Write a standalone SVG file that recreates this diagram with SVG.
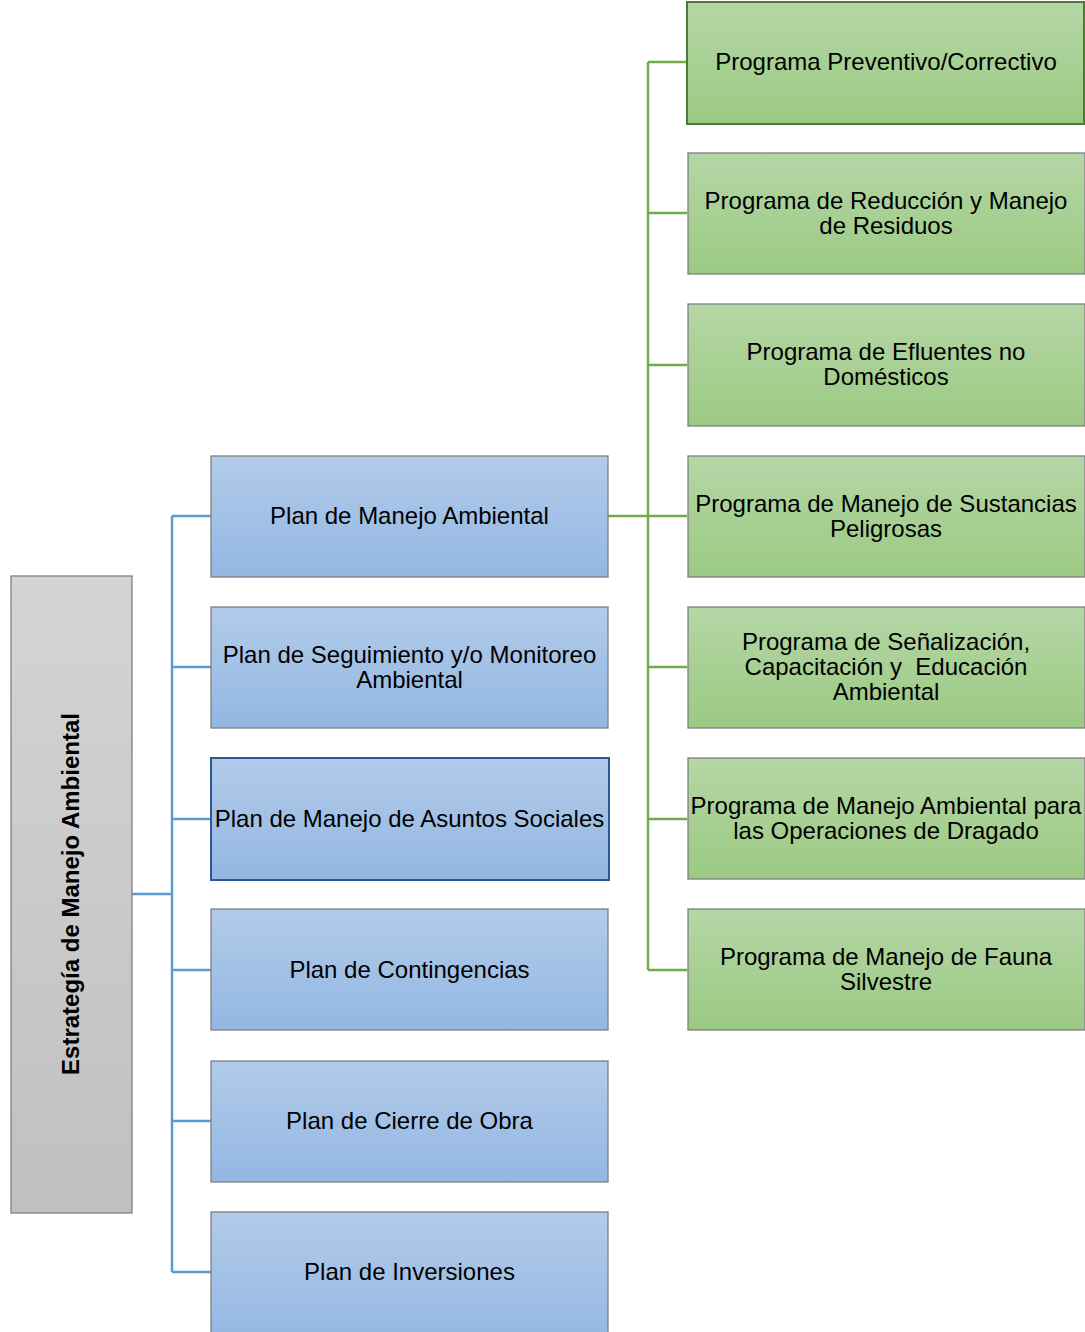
<svg xmlns="http://www.w3.org/2000/svg" width="1085" height="1332" viewBox="0 0 1085 1332">
<defs>
<linearGradient id="gBlue" x1="0" y1="0" x2="0" y2="1"><stop offset="0" stop-color="#b2cbe9"/><stop offset="1" stop-color="#93b7e3"/></linearGradient>
<linearGradient id="gGreen" x1="0" y1="0" x2="0" y2="1"><stop offset="0" stop-color="#b5d6a6"/><stop offset="1" stop-color="#9bca83"/></linearGradient>
<linearGradient id="gGray" x1="0" y1="0" x2="0" y2="1"><stop offset="0" stop-color="#d4d4d4"/><stop offset="1" stop-color="#c0c0c0"/></linearGradient>
</defs>
<style>
.blue{fill:url(#gBlue);stroke:#7f7f7f;stroke-width:1.3}
.green{fill:url(#gGreen);stroke:#7f7f7f;stroke-width:1.3}
.gray{fill:url(#gGray);stroke:#808080;stroke-width:1.3}
.sel-b{stroke:#2e5796;stroke-width:2}
.sel-g{stroke:#4f7b34;stroke-width:2}
text{font-family:"Liberation Sans",Arial,sans-serif;font-size:24px;fill:#000;text-anchor:middle}
.title{font-weight:bold;font-size:24px}
.cb{fill:none;stroke:#5b9bd5;stroke-width:2.5}
.cg{fill:none;stroke:#70ad47;stroke-width:2.5}
</style>
<g id="connectors">
<path class="cb" d="M132 894 H172 M172 516 V1272 M172 516 H211 M172 667 H211 M172 819 H211 M172 970 H211 M172 1121 H211 M172 1272 H211"/>
<path class="cg" d="M608 516 H648 M648 62 V970 M648 62 H687 M648 213 H687 M648 365 H687 M648 516 H687 M648 667 H687 M648 819 H687 M648 970 H687"/>
</g>
<g id="root">
<rect class="gray" x="11" y="576" width="121" height="637"/>
<text class="title" transform="translate(79 894) rotate(-90)">Estrategía de Manejo Ambiental</text>
</g>
<g id="plan1"><rect class="blue" x="211" y="456" width="397" height="121"/><text x="409.5" y="524">Plan de Manejo Ambiental</text></g>
<g id="plan2"><rect class="blue" x="211" y="607" width="397" height="121"/><text x="409.5" y="663">Plan de Seguimiento y/o Monitoreo</text><text x="409.5" y="688">Ambiental</text></g>
<g id="plan3"><rect class="blue sel-b" x="211" y="758" width="398" height="122"/><text x="409.5" y="827">Plan de Manejo de Asuntos Sociales</text></g>
<g id="plan4"><rect class="blue" x="211" y="909" width="397" height="121"/><text x="409.5" y="978">Plan de Contingencias</text></g>
<g id="plan5"><rect class="blue" x="211" y="1061" width="397" height="121"/><text x="409.5" y="1129">Plan de Cierre de Obra</text></g>
<g id="plan6"><rect class="blue" x="211" y="1212" width="397" height="130"/><text x="409.5" y="1280">Plan de Inversiones</text></g>
<g id="prog1"><rect class="green sel-g" x="687" y="2" width="397" height="122"/><text x="886" y="70">Programa Preventivo/Correctivo</text></g>
<g id="prog2"><rect class="green" x="688" y="153" width="397" height="121"/><text x="886" y="209">Programa de Reducción y Manejo</text><text x="886" y="234">de Residuos</text></g>
<g id="prog3"><rect class="green" x="688" y="304" width="397" height="122"/><text x="886" y="360">Programa de Efluentes no</text><text x="886" y="385">Domésticos</text></g>
<g id="prog4"><rect class="green" x="688" y="456" width="397" height="121"/><text x="886" y="512">Programa de Manejo de Sustancias</text><text x="886" y="537">Peligrosas</text></g>
<g id="prog5"><rect class="green" x="688" y="607" width="397" height="121"/><text x="886" y="650">Programa de Señalización,</text><text x="886" y="675" xml:space="preserve">Capacitación y  Educación</text><text x="886" y="700">Ambiental</text></g>
<g id="prog6"><rect class="green" x="688" y="758" width="397" height="121"/><text x="886" y="814">Programa de Manejo Ambiental para</text><text x="886" y="839">las Operaciones de Dragado</text></g>
<g id="prog7"><rect class="green" x="688" y="909" width="397" height="121"/><text x="886" y="965">Programa de Manejo de Fauna</text><text x="886" y="990">Silvestre</text></g>
</svg>
